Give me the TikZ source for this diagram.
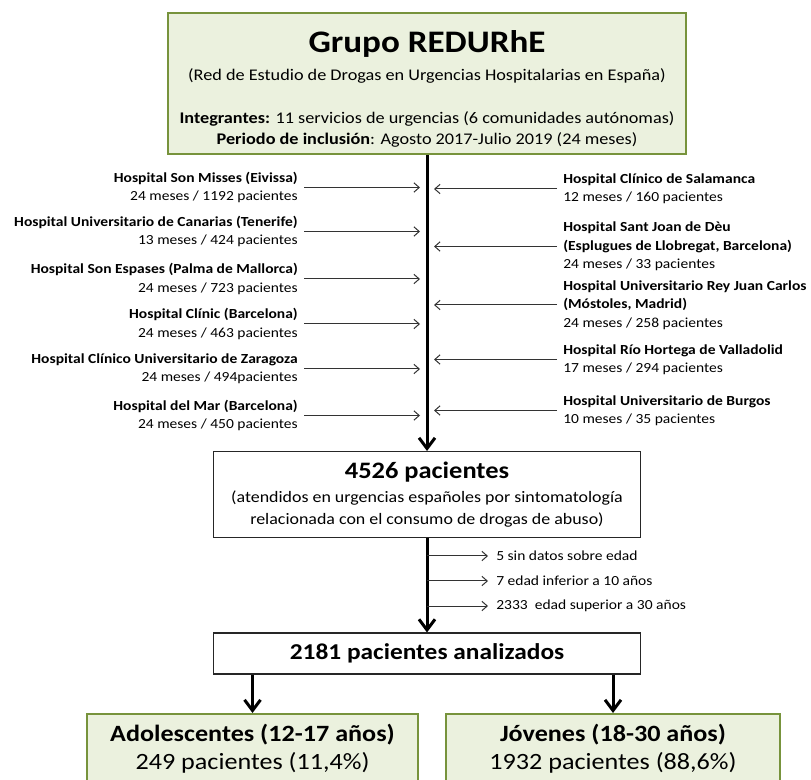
\documentclass[tikz,border=0pt]{standalone}
\usepackage{fontspec}
\setmainfont{Carlito}[FakeStretch=1.12]
\usetikzlibrary{positioning, arrows.meta}

\definecolor{boxgreen}{HTML}{EBF1DE}
\definecolor{linegreen}{HTML}{77933C}

\begin{document}
\begin{tikzpicture}[x=0.75pt, y=-0.75pt, node distance=1cm]
\tikzset{
    groupbox/.style={rectangle, draw=linegreen, line width=1.5pt, fill=boxgreen, text centered, align=center, minimum width=388.5pt, minimum height=105.75pt, font=\fontsize{12.2}{15}\selectfont},
    countbox/.style={rectangle, draw=black!85, line width=1.1pt, text centered, align=center, minimum width=320pt, font=\fontsize{12}{16.5}\selectfont},
    agebox/.style={rectangle, draw=linegreen, line width=1.5pt, fill=boxgreen, text centered, align=center, anchor=north, inner ysep=7.5pt, font=\fontsize{17.5}{21}\selectfont},
    hospL/.style={align=right, anchor=east, inner xsep=4.5pt, font=\fontsize{10.4}{13.75}\selectfont},
    hospR/.style={align=left, anchor=west, inner xsep=4.5pt, font=\fontsize{10.4}{13.75}\selectfont},
    excl/.style={anchor=west, inner xsep=6pt, font=\fontsize{10.4}{12}\selectfont},
    flow/.style={line width=2.25pt, -{Straight Barb[length=8pt, width=12pt]}},
    feed/.style={line width=0.75pt, draw=black!80, -{Straight Barb[length=4pt, width=7pt]}}
}
\useasboundingbox (0,0) rectangle (811,780);

% nodes
\node[groupbox] (grupo) at (427,83.5) {\mbox{}\\[7pt]
    {\fontsize{23.5}{25}\selectfont\bfseries Grupo REDURhE}\\[6pt]
    (Red de Estudio de Drogas en Urgencias Hospitalarias en España)\\[17pt]
    \textbf{Integrantes:} 11 servicios de urgencias (6 comunidades autónomas)\\[1pt]
    \textbf{Periodo de inclusión}: Agosto 2017-Julio 2019 (24 meses)};
\node[countbox, minimum height=64.5pt, below=222pt of grupo] (total) {{\fontsize{17.7}{20}\selectfont\bfseries 4526 pacientes}\\[1pt]
    (atendidos en urgencias españoles por sintomatología\\ relacionada con el consumo de drogas de abuso)};
\node[countbox, minimum height=30.75pt, below=70.5pt of total, font=\fontsize{17}{20}\selectfont\bfseries] (analizados) {2181 pacientes analizados};
\node[agebox, minimum width=248.25pt] (adol) at (252.5,713) {\textbf{Adolescentes (12-17 años)}\\249 pacientes (11,4\%)\\[20pt]\mbox{}};
\node[agebox, minimum width=250.5pt] (jov) at (613,713) {\textbf{Jóvenes (18-30 años)}\\1932 pacientes (88,6\%)\\[20pt]\mbox{}};

\node[hospL] (misses) at (304,187.5) {\textbf{Hospital Son Misses (Eivissa)}\\24 meses / 1192 pacientes};
\node[hospL] (canarias) at (304,231.5) {\textbf{Hospital Universitario de Canarias (Tenerife)}\\13 meses / 424 pacientes};
\node[hospL] (espases) at (304,279) {\textbf{Hospital Son Espases (Palma de Mallorca)}\\24 meses / 723 pacientes};
\node[hospL] (clinic) at (304,324) {\textbf{Hospital Clínic (Barcelona)}\\24 meses / 463 pacientes};
\node[hospL] (zaragoza) at (304,369) {\textbf{Hospital Clínico Universitario de Zaragoza}\\24 meses / 494pacientes};
\node[hospL] (mar) at (304,415.5) {\textbf{Hospital del Mar (Barcelona)}\\24 meses / 450 pacientes};

\node[hospR] (salamanca) at (557,189) {\textbf{Hospital Clínico de Salamanca}\\12 meses / 160 pacientes};
\node[hospR] (sjd) at (557,246.5) {\textbf{Hospital Sant Joan de Dèu}\\\textbf{(Esplugues de Llobregat, Barcelona)}\\24 meses / 33 pacientes};
\node[hospR] (reyjuan) at (557,305) {\textbf{Hospital Universitario Rey Juan Carlos}\\\textbf{(Móstoles, Madrid)}\\24 meses / 258 pacientes};
\node[hospR] (valladolid) at (557,359.5) {\textbf{Hospital Río Hortega de Valladolid}\\17 meses / 294 pacientes};
\node[hospR] (burgos) at (557,410.5) {\textbf{Hospital Universitario de Burgos}\\10 meses / 35 pacientes};

\node[excl] (sindatos) at (488,556) {5 sin datos sobre edad};
\node[excl] (inferior) at (488,581) {7 edad inferior a 10 años};
\node[excl] (superior) at (488,606) {2333\ \ edad superior a 30 años};

\coordinate (axisL) at (420,0);
\coordinate (axisR) at (434,0);

% arrows
\draw[flow] (grupo) edge (total);
\draw[flow] (total) edge (analizados);
\draw[flow] (analizados.south -| adol.north) -- (adol.north);
\draw[flow] (analizados.south -| jov.north) -- (jov.north);

\draw[feed] (misses.east) -- (misses.east -| axisL);
\draw[feed] (canarias.east) -- (canarias.east -| axisL);
\draw[feed] (espases.east) -- (espases.east -| axisL);
\draw[feed] (clinic.east) -- (clinic.east -| axisL);
\draw[feed] (zaragoza.east) -- (zaragoza.east -| axisL);
\draw[feed] (mar.east) -- (mar.east -| axisL);

\draw[feed] (salamanca.west) -- (salamanca.west -| axisR);
\draw[feed] (sjd.west) -- (sjd.west -| axisR);
\draw[feed] (reyjuan.west) -- (reyjuan.west -| axisR);
\draw[feed] (valladolid.west) -- (valladolid.west -| axisR);
\draw[feed] (burgos.west) -- (burgos.west -| axisR);

\draw[feed] (sindatos.west -| total.south) -- (sindatos.west);
\draw[feed] (inferior.west -| total.south) -- (inferior.west);
\draw[feed] (superior.west -| total.south) -- (superior.west);

\end{tikzpicture}
\end{document}
